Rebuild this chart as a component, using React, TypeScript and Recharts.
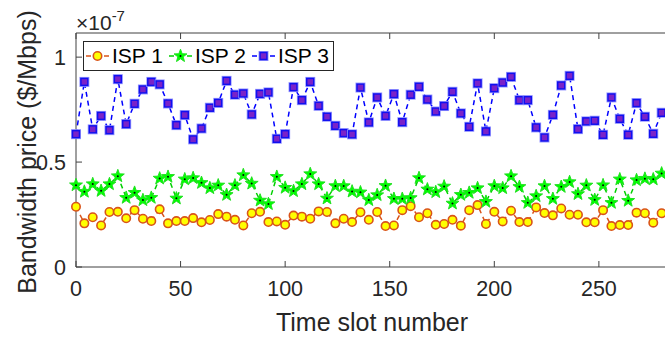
import React from "react"
import { LineChart, Line, XAxis, YAxis, Legend } from "recharts"

const FONT = "'Liberation Sans', Arial, Helvetica, sans-serif"
const INK = "#262626"

// time slot numbers (every 4th slot)
const slots = [
  0, 4, 8, 12, 16, 20, 24, 28, 32, 36, 40, 44, 48, 52, 56, 60, 64, 68, 72, 76,
  80, 84, 88, 92, 96, 100, 104, 108, 112, 116, 120, 124, 128, 132, 136, 140,
  144, 148, 152, 156, 160, 164, 168, 172, 176, 180, 184, 188, 192, 196, 200,
  204, 208, 212, 216, 220, 224, 228, 232, 236, 240, 244, 248, 252, 256, 260,
  264, 268, 272, 276, 280,
]

// prices in units of 1e-7 $/Mbps
const isp1 = [
  0.287, 0.208, 0.237, 0.198, 0.262, 0.263, 0.232, 0.271, 0.23, 0.219, 0.275,
  0.208, 0.219, 0.219, 0.233, 0.213, 0.224, 0.252, 0.24, 0.225, 0.198, 0.256,
  0.263, 0.214, 0.217, 0.201, 0.245, 0.24, 0.23, 0.265, 0.262, 0.208, 0.23,
  0.214, 0.261, 0.225, 0.262, 0.195, 0.198, 0.271, 0.29, 0.237, 0.256, 0.201,
  0.205, 0.225, 0.197, 0.271, 0.295, 0.205, 0.263, 0.217, 0.268, 0.214, 0.214,
  0.284, 0.257, 0.246, 0.279, 0.249, 0.249, 0.213, 0.213, 0.271, 0.195, 0.2,
  0.2, 0.259, 0.256, 0.211, 0.256,
]
const isp2 = [
  0.39, 0.359, 0.395, 0.363, 0.395, 0.433, 0.33, 0.354, 0.319, 0.33, 0.422,
  0.43, 0.327, 0.418, 0.424, 0.401, 0.376, 0.389, 0.344, 0.389, 0.438, 0.398,
  0.317, 0.3, 0.43, 0.378, 0.362, 0.395, 0.443, 0.395, 0.327, 0.386, 0.386,
  0.36, 0.356, 0.319, 0.343, 0.387, 0.325, 0.325, 0.329, 0.424, 0.37, 0.357,
  0.384, 0.303, 0.344, 0.354, 0.376, 0.311, 0.386, 0.376, 0.433, 0.382, 0.306,
  0.338, 0.386, 0.325, 0.382, 0.405, 0.348, 0.389, 0.32, 0.39, 0.306, 0.418,
  0.316, 0.414, 0.421, 0.418, 0.446,
]
const isp3 = [
  0.633, 0.882, 0.656, 0.72, 0.652, 0.895, 0.681, 0.778, 0.846, 0.882, 0.87,
  0.779, 0.676, 0.724, 0.608, 0.66, 0.759, 0.782, 0.887, 0.821, 0.827, 0.727,
  0.825, 0.832, 0.611, 0.633, 0.857, 0.795, 0.882, 0.768, 0.716, 0.673, 0.638,
  0.632, 0.855, 0.689, 0.808, 0.72, 0.824, 0.69, 0.821, 0.859, 0.798, 0.741,
  0.767, 0.835, 0.732, 0.668, 0.875, 0.646, 0.852, 0.879, 0.906, 0.795, 0.795,
  0.665, 0.617, 0.725, 0.865, 0.911, 0.657, 0.694, 0.697, 0.63, 0.808, 0.706,
  0.63, 0.781, 0.716, 0.635, 0.735,
]

const xTicks = [0, 50, 100, 150, 200, 250]
const yTicks = [0, 0.5, 1]

const data = slots.map((t, i) => ({ t, isp1: isp1[i], isp2: isp2[i], isp3: isp3[i] }))

const COLORS = { isp1: "#D95319", isp2: "#00D000", isp3: "#0000FF" }

function Circle({ cx, cy }: { cx: number; cy: number }) {
  return <circle cx={cx} cy={cy} r={4.2} fill="#FFFF00" stroke="#D95319" strokeWidth={1.6} />
}

function Star({ cx, cy }: { cx: number; cy: number }) {
  const pts: string[] = []
  for (let k = 0; k < 10; k++) {
    const r = k % 2 === 0 ? 6.8 : 2.8
    const a = -Math.PI / 2 + (k * Math.PI) / 5
    pts.push(`${cx + r * Math.cos(a)},${cy + r * Math.sin(a)}`)
  }
  return (
    <g>
      <polygon points={pts.join(" ")} fill="#00FF00" stroke="#22E022" strokeWidth={1} />
      <circle cx={cx} cy={cy} r={1} fill="#000" />
    </g>
  )
}

function Square({ cx, cy }: { cx: number; cy: number }) {
  return (
    <g>
      <rect x={cx - 4.5} y={cy - 4.5} width={9} height={9} fill="none" stroke="#9999FF" strokeWidth={1} />
      <rect x={cx - 3.5} y={cy - 3.5} width={7} height={7} fill="#7A22C8" stroke="#1010F0" strokeWidth={1.5} />
    </g>
  )
}

const markers: Record<string, (p: { cx: number; cy: number }) => React.ReactElement> = {
  isp1: Circle,
  isp2: Star,
  isp3: Square,
}

const names: Record<string, string> = { isp1: "ISP 1", isp2: "ISP 2", isp3: "ISP 3" }

function dotFor(key: string) {
  const M = markers[key]
  return (props: any) => {
    if (props.cx == null || props.cy == null) return <g key={props.index} />
    return (
      <g key={`${key}-${props.index}`}>
        <M cx={props.cx} cy={props.cy} />
      </g>
    )
  }
}

function LegendBox() {
  const keys = ["isp1", "isp2", "isp3"]
  return (
    <div
      style={{
        display: "flex",
        alignItems: "center",
        background: "#fff",
        border: `1px solid ${INK}`,
        height: 28,
        padding: "0 4px 0 1px",
        fontFamily: FONT,
        fontSize: 21,
        color: "#000",
        whiteSpace: "nowrap",
      }}
    >
      {keys.map((k, i) => {
        const M = markers[k]
        return (
          <div key={k} style={{ display: "flex", alignItems: "center", marginLeft: i === 0 ? 0 : 5 }}>
            <svg width={25} height={20} style={{ display: "block" }}>
              <line x1={1} y1={10} x2={24} y2={10} stroke={COLORS[k as keyof typeof COLORS]} strokeWidth={1.5} strokeDasharray="5 4" />
              <M cx={12.5} cy={10} />
            </svg>
            <span style={{ marginLeft: 2 }}>{names[k]}</span>
          </div>
        )
      })}
    </div>
  )
}

export default function App() {
  const tickStyle = { fill: INK, fontSize: 21.5, fontFamily: FONT }
  const axisStyle = { stroke: "#404040", strokeWidth: 1 }
  return (
    <div
      style={{
        position: "fixed",
        left: 0,
        top: 0,
        width: 665,
        height: 339,
        overflow: "hidden",
        background: "#fff",
        fontFamily: FONT,
      }}
    >
      <LineChart width={692} height={339} data={data} margin={{ top: 3, right: 0, bottom: 0, left: 0 }}>
        <XAxis
          xAxisId="b"
          dataKey="t"
          type="number"
          domain={[0, 284]}
          ticks={xTicks}
          height={72}
          tickSize={-6}
          tickMargin={20}
          tick={tickStyle}
          axisLine={axisStyle}
          tickLine={axisStyle}
        />
        <XAxis
          xAxisId="t"
          orientation="top"
          dataKey="t"
          type="number"
          domain={[0, 284]}
          ticks={xTicks}
          height={30}
          tickSize={-6}
          tickFormatter={() => ""}
          axisLine={axisStyle}
          tickLine={axisStyle}
        />
        <YAxis
          yAxisId="l"
          type="number"
          domain={[0, 1.115]}
          ticks={yTicks}
          width={76}
          tickSize={-6}
          tickMargin={16}
          tick={tickStyle}
          axisLine={axisStyle}
          tickLine={axisStyle}
        />
        <YAxis
          yAxisId="r"
          orientation="right"
          type="number"
          domain={[0, 1.115]}
          ticks={yTicks}
          width={22}
          tickSize={-6}
          tickFormatter={() => ""}
          axisLine={axisStyle}
          tickLine={axisStyle}
        />
        <Legend
          layout="vertical"
          align="center"
          verticalAlign="middle"
          content={() => <LegendBox />}
          wrapperStyle={{ left: 83, top: 41, width: "auto", height: "auto" }}
        />
        {(["isp1", "isp2", "isp3"] as const).map((k) => (
          <Line
            key={k}
            xAxisId="b"
            yAxisId="l"
            dataKey={k}
            name={names[k]}
            type="linear"
            stroke={COLORS[k]}
            strokeWidth={1.5}
            strokeDasharray="5 4"
            dot={dotFor(k)}
            activeDot={false}
            isAnimationActive={false}
          />
        ))}
      </LineChart>
      <div
        style={{
          position: "absolute",
          left: 76,
          top: 4,
          fontSize: 21,
          color: INK,
          lineHeight: "24px",
          whiteSpace: "nowrap",
        }}
      >
        ×10<sup style={{ fontSize: 15, verticalAlign: "9px" }}>-7</sup>
      </div>
      <div
        style={{
          position: "absolute",
          left: 0,
          width: 744,
          top: 308,
          textAlign: "center",
          fontSize: 25,
          color: INK,
          lineHeight: "28px",
        }}
      >
        Time slot number
      </div>
      <div
        style={{
          position: "absolute",
          left: 27,
          top: 152,
          transform: "translate(-50%, -50%) rotate(-90deg)",
          fontSize: 25,
          color: INK,
          lineHeight: "28px",
          whiteSpace: "nowrap",
        }}
      >
        Bandwidth price ($/Mbps)
      </div>
    </div>
  )
}
